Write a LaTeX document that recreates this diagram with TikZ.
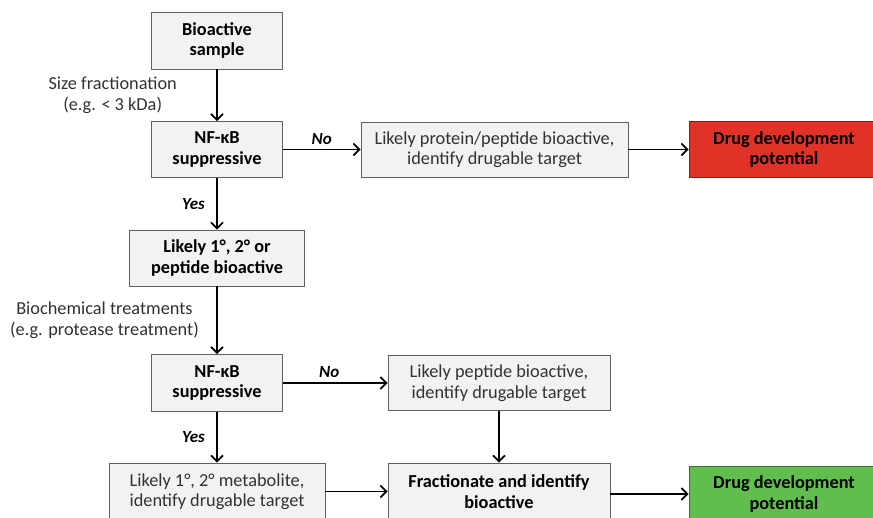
\documentclass[tikz,border=0pt]{standalone}
\usepackage{fontspec}
\setmainfont{Carlito}
\usetikzlibrary{arrows.meta,positioning}

\definecolor{boxfill}{RGB}{242,242,242}
\definecolor{boxline}{RGB}{95,95,95}
\definecolor{drugred}{RGB}{224,50,38}
\definecolor{druggreen}{RGB}{98,190,76}
\definecolor{txt}{RGB}{50,50,50}

\tikzset{
	box/.style={draw=boxline, fill=boxfill, line width=0.9pt, align=center, inner sep=0pt, text=txt, font=\fontsize{18.3}{20.5}\selectfont},
	boldbox/.style={box, text=black, font=\fontsize{18.3}{20.5}\selectfont\bfseries},
	answer/.style={text=black, font=\fontsize{17}{19}\selectfont\bfseries\itshape},
	note/.style={align=center, text=txt, font=\fontsize{18.3}{20.5}\selectfont}
}

\begin{document}
\begin{tikzpicture}[x=1pt, y=-1pt, line width=1.7pt, >={Straight Barb[length=6pt,width=12pt]}]

		\clip (0,0) rectangle (873,517);
		\fill[white] (0,0) rectangle (873,517);

		% first test
		\node[boldbox, minimum width=131pt, minimum height=57pt] (sample) at (217,40.5) {Bioactive\\sample};
		\node[boldbox, minimum width=131pt, minimum height=56pt] (nfkbA) at (217,149.5) {NF-κB\\suppressive};
		\node[box, minimum width=267pt, minimum height=55pt] (protein) at (494.5,149.5) {Likely protein/peptide bioactive,\\identify drugable target};
		\node[boldbox, fill=drugred, draw=drugred!60!black, minimum width=190pt, minimum height=56pt] (drugA) at (784,149.5) {Drug development\\potential};

		% second test
		\node[boldbox, minimum width=175pt, minimum height=56pt] (likely) at (217,258) {Likely 1°, 2° or\\peptide bioactive};
		\node[boldbox, minimum width=131pt, minimum height=57pt] (nfkbB) at (217,383) {NF-κB\\suppressive};
		\node[box, minimum width=222pt, minimum height=55pt] (peptide) at (499,383) {Likely peptide bioactive,\\identify drugable target};

		% bottom row
		\node[box, minimum width=216pt, minimum height=57pt] (metab) at (217,491.5) {Likely 1°, 2° metabolite,\\identify drugable target};
		\node[boldbox, minimum width=222pt, minimum height=57pt] (fract) at (499,491.5) {Fractionate and identify\\bioactive};
		\node[boldbox, fill=druggreen, draw=druggreen!60!black, minimum width=190pt, minimum height=56pt] (drugB) at (784,494) {Drug development\\potential};

		\draw[->] (sample) -- node[note, left=36pt] {Size fractionation\\(e.g. < 3 kDa)} (nfkbA);
		\draw[->] (nfkbA) -- node[answer, above=1pt] {No} (protein);
		\draw[->] (protein) -- (drugA);
		\draw[->] (nfkbA) -- node[answer, left=8pt] {Yes} (likely);

		\draw[->] (likely) -- node[note, left=14pt] {Biochemical treatments\\(e.g. protease treatment)} (nfkbB);
		\draw[->] (nfkbB) -- node[answer, above=1pt, pos=0.5, xshift=-6pt] {No} (peptide);
		\draw[->] (nfkbB) -- node[answer, left=8pt] {Yes} (metab);
		\draw[->] (peptide) -- (fract);

		\draw[->] (metab.east) -- (metab.east -| fract.west);
		\draw[->] (fract.east |- drugB) -- (drugB.west);

	\end{tikzpicture}
\end{document}
